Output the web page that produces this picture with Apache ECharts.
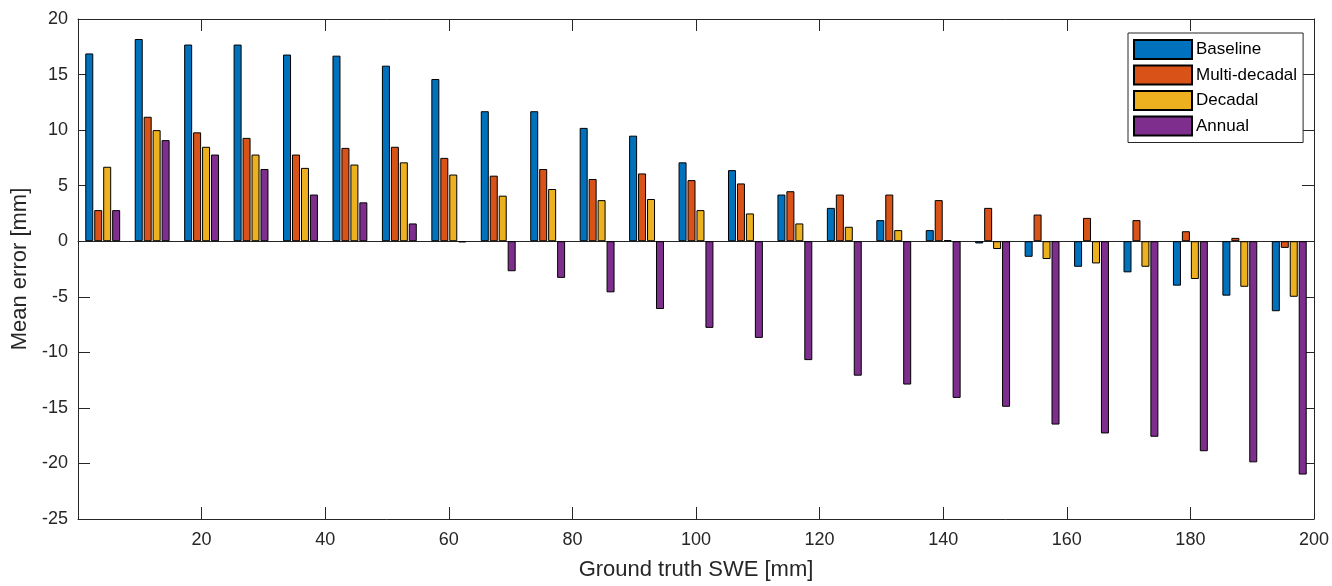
<!DOCTYPE html>
<html>
<head>
<meta charset="utf-8">
<script src="https://cdn.jsdelivr.net/npm/echarts@6/dist/echarts.min.js"></script>
<style>
html,body{margin:0;padding:0;background:#fff;}
#chart{width:1332px;height:586px;}
</style>
</head>
<body>
<div id="chart"></div>
<script>
// Group centres (Ground truth SWE [mm])
const categories = [4, 12, 20, 28, 36, 44, 52, 60, 68, 76, 84, 92, 100, 108, 116, 124, 132, 140, 148, 156, 164, 172, 180, 188, 196];
const seriesNames = ['Baseline', 'Multi-decadal', 'Decadal', 'Annual'];
const baseline = [16.9, 18.2, 17.7, 17.7, 16.8, 16.7, 15.8, 14.6, 11.7, 11.7, 10.2, 9.5, 7.1, 6.4, 4.2, 3.0, 1.9, 1.0, -0.2, -1.4, -2.3, -2.8, -4.0, -4.9, -6.3];
const multiDecadal = [2.8, 11.2, 9.8, 9.3, 7.8, 8.4, 8.5, 7.5, 5.9, 6.5, 5.6, 6.1, 5.5, 5.2, 4.5, 4.2, 4.2, 3.7, 3.0, 2.4, 2.1, 1.9, 0.9, 0.3, -0.6];
const decadal = [6.7, 10.0, 8.5, 7.8, 6.6, 6.9, 7.1, 6.0, 4.1, 4.7, 3.7, 3.8, 2.8, 2.5, 1.6, 1.3, 1.0, 0.1, -0.7, -1.6, -2.0, -2.3, -3.4, -4.1, -5.0];
const annual = [2.8, 9.1, 7.8, 6.5, 4.2, 3.5, 1.6, -0.1, -2.7, -3.3, -4.6, -6.1, -7.8, -8.7, -10.7, -12.1, -12.9, -14.1, -14.9, -16.5, -17.3, -17.6, -18.9, -19.9, -21.0];
const xTickRange = [0, 200, 20];
const yTickRange = [-25, 20, 5];

const colors = ['#0072BD', '#D95319', '#EDB120', '#7E2F8E'];
const allData = [baseline, multiDecadal, decadal, annual];
const FONT = '"Liberation Sans", Arial, Helvetica, sans-serif';
const AX = '#262626';

const chart = echarts.init(document.getElementById('chart'), null, {renderer: 'canvas'});

const valueX = (pos, showLabels) => ({
  type: 'value', position: pos, min: xTickRange[0], max: xTickRange[1], interval: xTickRange[2],
  axisLine: {show: true, onZero: false, lineStyle: {color: AX, width: 1}},
  axisTick: {show: true, inside: true, length: 12, lineStyle: {color: AX, width: 1}},
  axisLabel: {show: showLabels, showMinLabel: false, color: AX, fontSize: 18, fontFamily: FONT, margin: 12},
  splitLine: {show: false}
});
const valueY = (pos, showLabels) => ({
  type: 'value', position: pos, min: yTickRange[0], max: yTickRange[1], interval: yTickRange[2],
  axisLine: {show: true, onZero: false, lineStyle: {color: AX, width: 1}},
  axisTick: {show: true, inside: true, length: 12, lineStyle: {color: AX, width: 1}},
  axisLabel: {show: showLabels, color: AX, fontSize: 18, fontFamily: FONT, margin: 10},
  splitLine: {show: false}
});

const xBottom = valueX('bottom', true);
xBottom.name = 'Ground truth SWE [mm]';
xBottom.nameLocation = 'middle';
xBottom.nameGap = 40;
xBottom.nameTextStyle = {color: AX, fontSize: 22, fontFamily: FONT};

const yLeft = valueY('left', true);
yLeft.name = 'Mean error [mm]';
yLeft.nameLocation = 'middle';
yLeft.nameGap = 40;
yLeft.nameTextStyle = {color: AX, fontSize: 22, fontFamily: FONT};

const option = {
  backgroundColor: '#fff',
  animation: false,
  grid: {left: 78, right: 15, top: 19, bottom: 64, containLabel: false},
  legend: {
    orient: 'vertical', left: 1128, top: 33,
    padding: [6, 6, 6, 5],
    itemWidth: 58, itemHeight: 19, itemGap: 4.5,
    icon: 'rect',
    backgroundColor: '#fff', borderColor: AX, borderWidth: 1,
    textStyle: {color: '#000', fontSize: 17, fontFamily: FONT, padding: [0, 0, 0, -1]},
    data: seriesNames
  },
  xAxis: [
    {
      type: 'category', data: categories, position: 'bottom', boundaryGap: true,
      axisLine: {show: true, onZero: true, onZeroAxisIndex: 0, lineStyle: {color: AX, width: 1}},
      axisTick: {show: false}, axisLabel: {show: false}, splitLine: {show: false}
    },
    xBottom,
    valueX('top', false)
  ],
  yAxis: [yLeft, valueY('right', false)],
  series: seriesNames.map((name, i) => ({
    name: name, type: 'bar', xAxisIndex: 0, yAxisIndex: 0,
    data: allData[i],
    barWidth: 8, barGap: '12%',
    itemStyle: {color: colors[i], borderColor: '#000', borderWidth: 1}
  }))
};
chart.setOption(option);
</script>
</body>
</html>
